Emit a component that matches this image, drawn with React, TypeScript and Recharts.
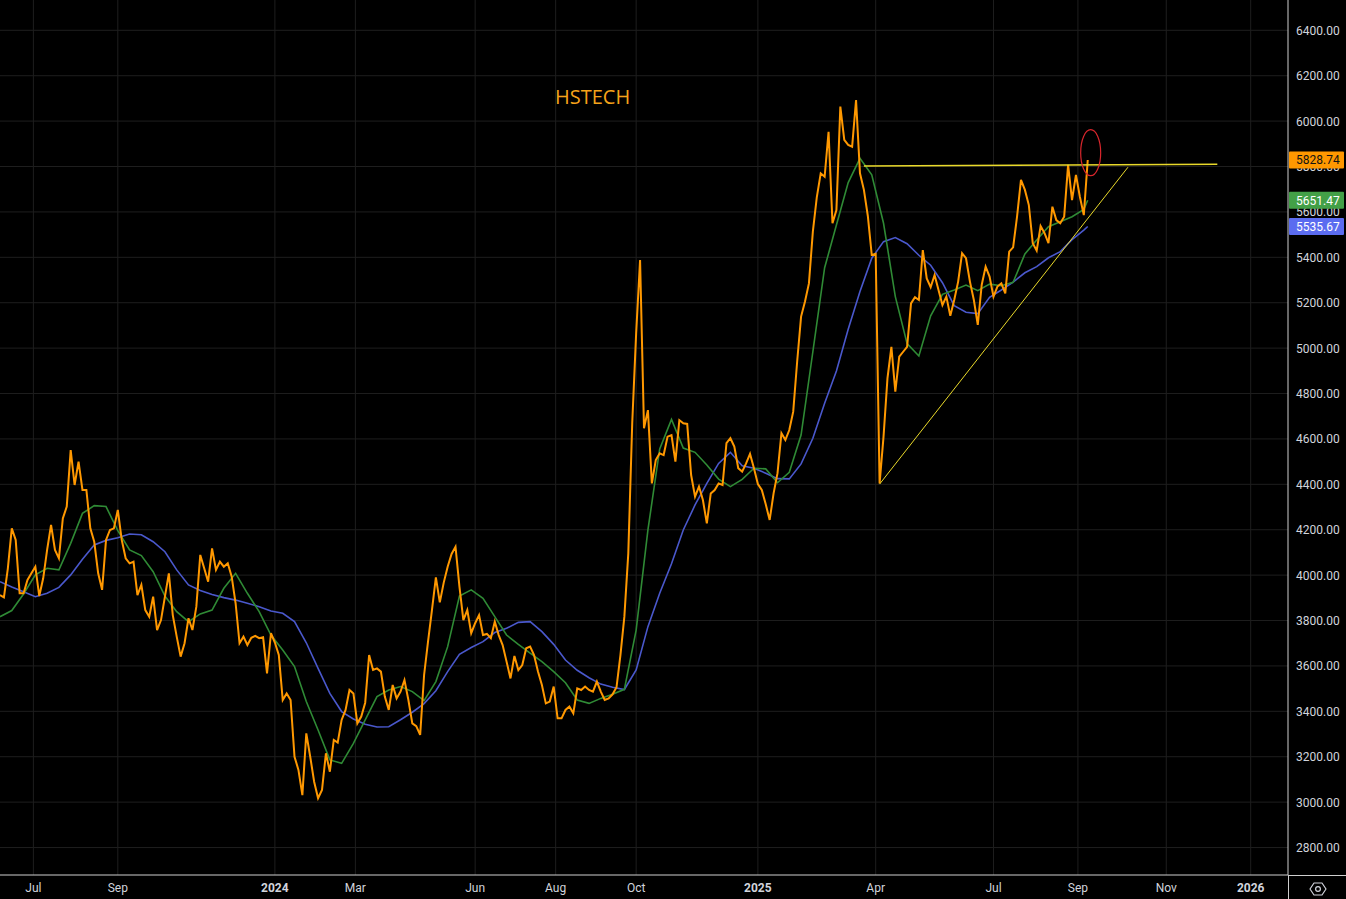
import React from 'react';
import {
  LineChart, Line, XAxis, YAxis, CartesianGrid,
  ReferenceLine, ReferenceDot,
} from 'recharts';

// HSTECH daily close, one sample every 2 sessions, session index 0 = late Jun 2023
const PRICE_STEP = 2;
const HSTECH = [
  3912, 3902, 4030, 4206, 4155, 3920, 3920, 3979, 4008, 4037,
  3908, 3986, 4111, 4221, 4111, 4074, 4250, 4302, 4551, 4397,
  4500, 4375, 4375, 4206, 4147, 4008, 3935, 4155, 4199, 4206,
  4287, 4155, 4074, 4052, 4059, 3912, 3957, 3846, 3817, 3905,
  3758, 3802, 3905, 4008, 3824, 3729, 3641, 3700, 3810, 3758,
  3861, 4089, 4030, 3971, 4118, 4023, 4059, 4037, 4052,
  3993, 3876, 3700, 3729, 3692, 3724, 3732, 3722, 3726, 3567,
  3744, 3703, 3648, 3450, 3479, 3450, 3200, 3142, 3031, 3303,
  3200, 3090, 3017, 3054, 3215, 3134, 3274, 3262, 3362, 3406,
  3494, 3479, 3347, 3377, 3438, 3648, 3582, 3589, 3575, 3465,
  3406, 3516, 3457, 3487, 3538, 3450, 3347, 3335, 3296, 3560,
  3707, 3846, 3990, 3880, 3967, 4037,
  4093, 4125, 3949, 3802, 3846, 3744, 3788, 3824, 3736, 3741,
  3722, 3795, 3736, 3692, 3619, 3545, 3644, 3582, 3604, 3678,
  3685, 3648, 3575, 3516, 3435, 3443, 3509, 3369, 3369, 3406,
  3421, 3391, 3501, 3494, 3509, 3494, 3487, 3531, 3487, 3450,
  3457, 3475, 3506, 3648, 3817, 4096, 4669, 5065, 5388, 4647,
  4727,
  4404, 4507, 4537, 4529, 4610, 4617, 4500, 4683, 4669, 4666,
  4441, 4346, 4390, 4331, 4228, 4360, 4375, 4404, 4397, 4581,
  4603, 4566, 4471, 4456, 4492, 4534, 4471, 4401, 4375, 4312,
  4243, 4360, 4449, 4625, 4595, 4639, 4720, 4940, 5139, 5205,
  5285, 5513, 5664, 5770, 5755, 5953, 5550, 5608, 6064, 5917,
  5895, 5887, 6093, 5770, 5697, 5582, 5410, 5415,
  4404, 4610, 4867, 5006, 4808, 4962, 4984, 5006, 5197, 5224,
  5212, 5432, 5307, 5268, 5322, 5256, 5190, 5227, 5142, 5212,
  5293, 5418, 5396, 5293, 5212, 5102, 5278, 5359, 5315, 5227,
  5271, 5285, 5241, 5425, 5444, 5579, 5741, 5697, 5630, 5462,
  5429, 5538, 5506, 5462, 5623, 5564, 5550, 5579, 5807, 5652,
  5763, 5667, 5586, 5828.74,
];

// moving averages, one sample every 6 sessions
const MA_STEP = 6;
const MA_FAST = [
  3817, 3844, 3917, 4001, 4030, 4023, 4140, 4272, 4306, 4302,
  4196, 4111, 4086, 4015, 3908, 3839, 3795, 3829, 3846, 3942,
  4008, 3920, 3839, 3736, 3670, 3597, 3443, 3318, 3186, 3171,
  3259, 3362, 3465, 3494, 3509, 3487, 3447, 3531, 3685,
  3908, 3935, 3898, 3817, 3736, 3695, 3656, 3619, 3575, 3526,
  3450, 3435, 3457, 3475, 3497, 3758, 4199,
  4556, 4686, 4560, 4541, 4485, 4423, 4390, 4422, 4471, 4468,
  4407, 4453, 4617, 4984, 5354, 5542, 5729, 5836, 5763,
  5550, 5227, 5020, 4965, 5142, 5237, 5256, 5278, 5253, 5282,
  5275, 5290, 5415, 5476, 5535, 5557, 5579, 5611,
];
const MA_SLOW = [
  3971, 3948, 3927, 3905, 3920, 3946, 4001, 4070, 4133, 4153,
  4165, 4181, 4178, 4147, 4103, 4023, 3957, 3932, 3915, 3901,
  3890, 3876, 3861, 3842, 3832, 3795, 3702, 3589, 3479, 3399,
  3366, 3343, 3331, 3332, 3363, 3396, 3434, 3491, 3575,
  3651, 3681, 3707, 3747, 3766, 3792, 3795, 3751, 3695, 3626,
  3581, 3548, 3520, 3506, 3496, 3582, 3773,
  3920, 4050, 4199, 4309, 4404, 4492, 4541, 4482, 4471, 4449,
  4425, 4424, 4490, 4603, 4757, 4899, 5083, 5249, 5396,
  5469, 5487, 5460, 5409, 5365, 5288, 5187, 5158, 5152, 5224,
  5256, 5291, 5332, 5359, 5398, 5425, 5478, 5520,
];
const LAST_DAY = 554;
const LAST_PRICE = 5828.74;
const LAST_FAST = 5651.47;
const LAST_SLOW = 5535.67;

const MONTH_DAYS = [17, 60, 140, 181, 242, 283, 324, 386, 446, 506, 549, 594, 637];
const MONTH_LABELS = ['Jul', 'Sep', '2024', 'Mar', 'Jun', 'Aug', 'Oct', '2025', 'Apr', 'Jul', 'Sep', 'Nov', '2026'];
const PRICE_TICKS = [2800, 3000, 3200, 3400, 3600, 3800, 4000, 4200, 4400, 4600, 4800, 5000, 5200, 5400, 5600, 5800, 6000, 6200, 6400];

// hand drawn lines
const RESISTANCE = [{ x: 440, y: 5802 }, { x: 620, y: 5810 }];
const SUPPORT = [{ x: 448, y: 4401 }, { x: 574.5, y: 5797 }];
const BREAKOUT = { x: 555.5, y: 5861 };

const W = 1346;
const H = 899;
const AXIS_W = 58;
const AXIS_H = 24;
const TEXT = '#d1d4dc';
const FONT = "Roboto, 'Liberation Sans', sans-serif";

const TAGS: Record<string, { bg: string; fg: string }> = {
  [LAST_PRICE]: { bg: '#ff9800', fg: '#131313' },
  [LAST_FAST]: { bg: '#43a047', fg: '#ffffff' },
  [LAST_SLOW]: { bg: '#5b6cf0', fg: '#ffffff' },
};
// badges listed last so they are painted over the round-number labels
const AXIS_TICKS = [...PRICE_TICKS, LAST_SLOW, LAST_FAST, LAST_PRICE];

const priceData = HSTECH.map((v, i) => ({ d: i * PRICE_STEP, v }));
const fastData = [...MA_FAST.map((v, i) => ({ d: i * MA_STEP, v })), { d: LAST_DAY, v: LAST_FAST }];
const slowData = [...MA_SLOW.map((v, i) => ({ d: i * MA_STEP, v })), { d: LAST_DAY, v: LAST_SLOW }];

const MonthTick = ({ x, y, payload }: any) => {
  const label = MONTH_LABELS[MONTH_DAYS.indexOf(payload.value)] ?? '';
  const isYear = /^\d{4}$/.test(label);
  return (
    <text x={x} y={y + 9} textAnchor="middle" fill={TEXT} fontSize={12} fontWeight={isYear ? 700 : 400} fontFamily={FONT}>
      {label}
    </text>
  );
};

const PriceTick = ({ x, y, payload }: any) => {
  const tag = TAGS[payload.value];
  const label = payload.value.toFixed(2);
  if (!tag) {
    return <text x={x} y={y + 4.5} fill={TEXT} fontSize={12} fontFamily={FONT}>{label}</text>;
  }
  const left = x - 7;
  return (
    <g>
      <rect x={left} y={y - 8.5} width={55} height={17} fill={tag.bg} rx={1} />
      <text x={x} y={y + 4.5} fill={tag.fg} fontSize={12} fontFamily={FONT}>{label}</text>
    </g>
  );
};

const Ellipse = (props: any) => (
  <ellipse cx={props.cx} cy={props.cy} rx={10} ry={23} fill="none" stroke="#d8262c" strokeWidth={1.2} />
);

export default function App() {
  return (
    <div style={{ position: 'absolute', left: 0, top: 0, width: W, height: H, background: '#000', fontFamily: FONT }}>
      <LineChart width={W} height={H} margin={{ top: 0, right: 0, bottom: 0, left: 0 }}>
        <CartesianGrid stroke="#1e1e1e" strokeWidth={1} horizontalValues={PRICE_TICKS} verticalValues={MONTH_DAYS} />
        <XAxis
          dataKey="d"
          type="number"
          domain={[0, 656]}
          allowDataOverflow
          ticks={MONTH_DAYS}
          tick={<MonthTick />}
          tickLine={false}
          axisLine={{ stroke: '#cfcfcf' }}
          height={AXIS_H}
          interval={0}
        />
        <YAxis
          dataKey="v"
          type="number"
          orientation="right"
          domain={[2679, 6533.5]}
          allowDataOverflow
          ticks={AXIS_TICKS}
          tick={<PriceTick />}
          tickLine={false}
          axisLine={{ stroke: '#cfcfcf' }}
          width={AXIS_W}
          interval={0}
        />
        <Line data={slowData} dataKey="v" type="linear" stroke="#4a58cc" strokeWidth={1.6} dot={false} activeDot={false} isAnimationActive={false} />
        <Line data={fastData} dataKey="v" type="linear" stroke="#2f8a35" strokeWidth={1.6} dot={false} activeDot={false} isAnimationActive={false} />
        <Line data={priceData} dataKey="v" type="linear" stroke="#ff9800" strokeWidth={2} dot={false} activeDot={false} isAnimationActive={false} />
        <ReferenceLine segment={RESISTANCE} stroke="#e9d92a" strokeWidth={1.4} ifOverflow="visible" />
        <ReferenceLine segment={SUPPORT} stroke="#e9d92a" strokeWidth={1} ifOverflow="visible" />
        <ReferenceDot x={BREAKOUT.x} y={BREAKOUT.y} r={10} shape={<Ellipse />} ifOverflow="visible" />
      </LineChart>
      <svg width={W} height={H} style={{ position: 'absolute', left: 0, top: 0, pointerEvents: 'none' }}>
        <text x={555} y={103.5} fill="#f5a31a" fontSize={20} fontFamily="'Open Sans', sans-serif">HSTECH</text>
        <line x1={W - AXIS_W + 0.5} y1={H - AXIS_H} x2={W - AXIS_W + 0.5} y2={H} stroke="#cfcfcf" />
        <line x1={W - AXIS_W} y1={H - AXIS_H + 0.5} x2={W} y2={H - AXIS_H + 0.5} stroke="#cfcfcf" />
        <polygon points="1310,889 1314,883 1322,883 1326,889 1322,895 1314,895" fill="none" stroke={TEXT} strokeWidth={1.2} strokeLinejoin="round" />
        <circle cx={1318} cy={889} r={2.4} fill="none" stroke={TEXT} strokeWidth={1.2} />
      </svg>
    </div>
  );
}
